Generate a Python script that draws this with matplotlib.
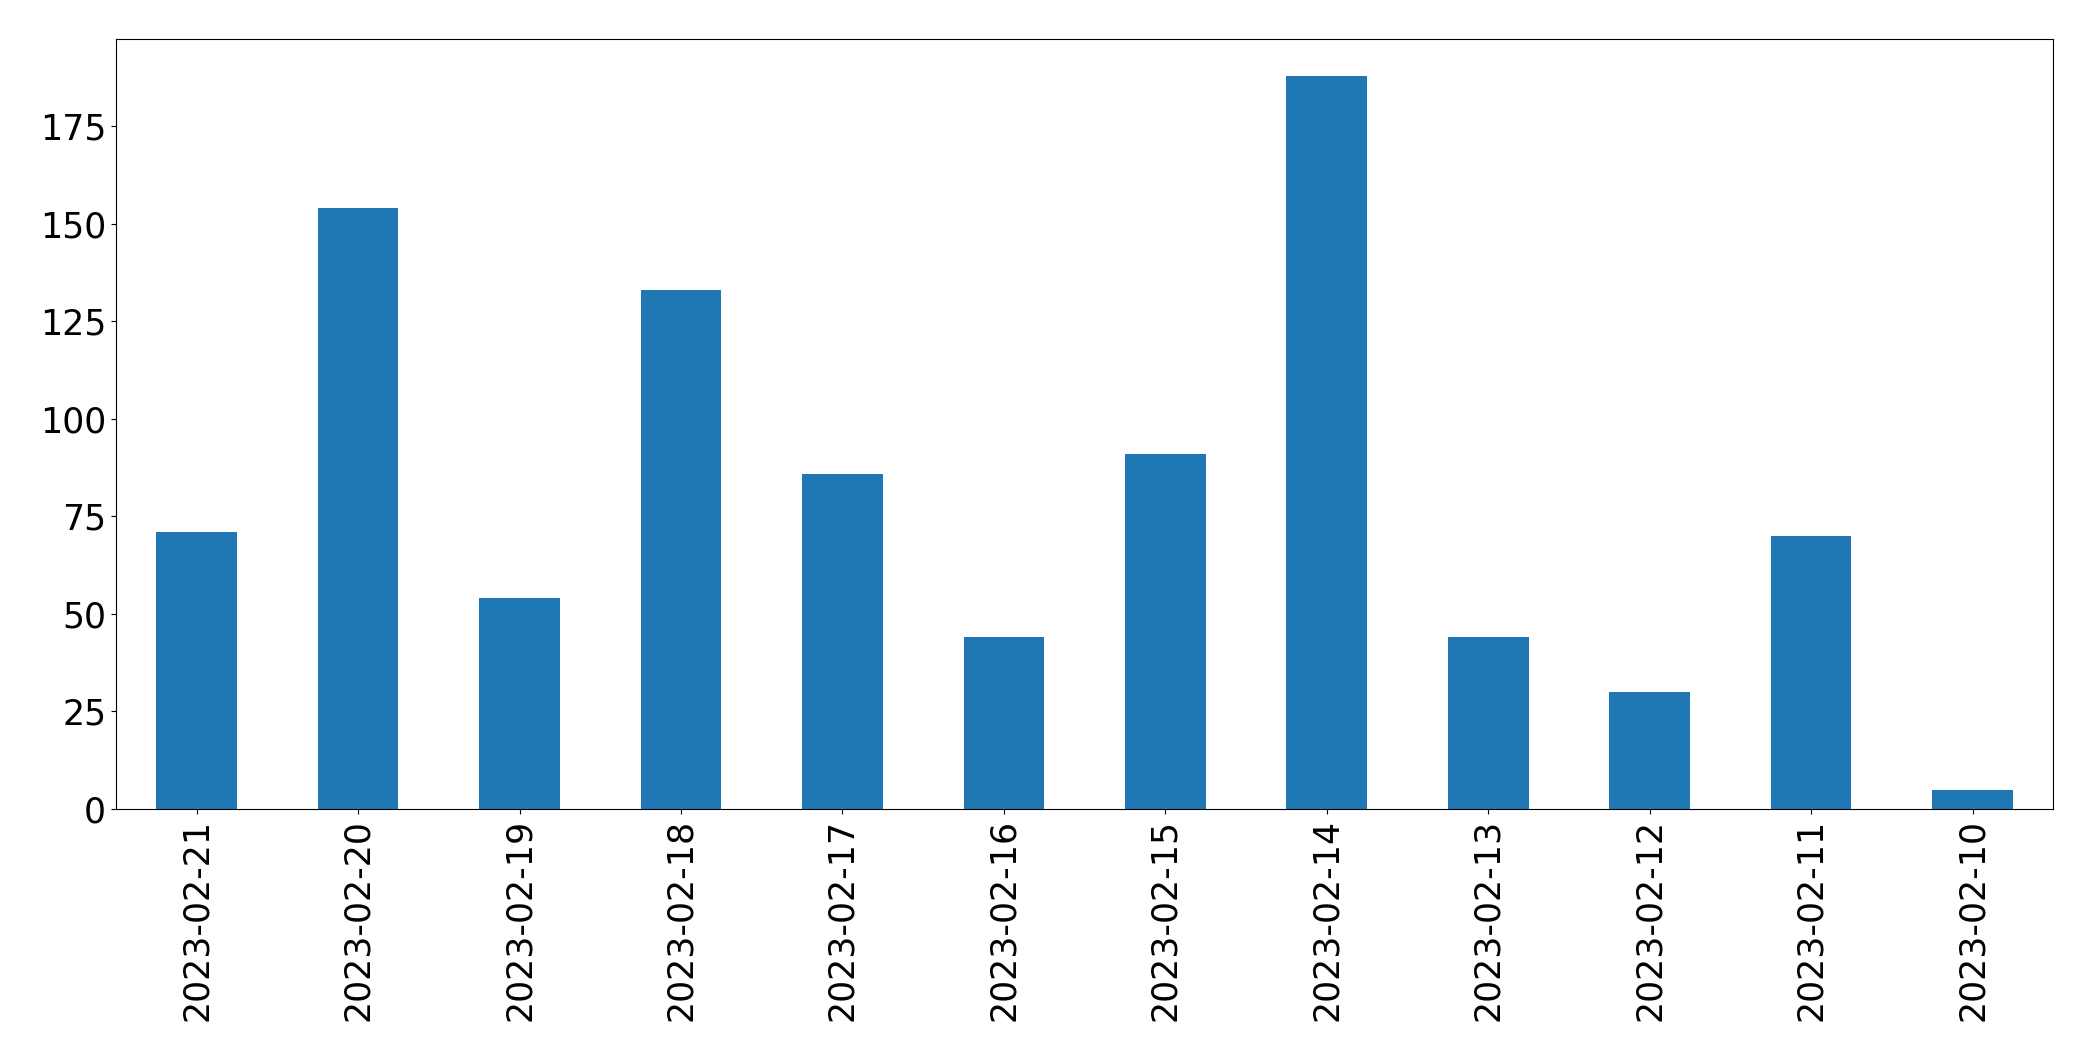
import matplotlib
matplotlib.use("Agg")
import matplotlib.pyplot as plt

dates = ["2023-02-21", "2023-02-20", "2023-02-19", "2023-02-18", "2023-02-17",
         "2023-02-16", "2023-02-15", "2023-02-14", "2023-02-13", "2023-02-12",
         "2023-02-11", "2023-02-10"]
counts = [71, 154, 54, 133, 86, 44, 91, 188, 44, 30, 70, 5]

fig, ax = plt.subplots(figsize=(20.93, 10.61), dpi=100)
pos = list(range(len(dates)))
ax.bar(pos, counts, width=0.5, color="#1f77b4")
ax.set_xlim(-0.5, len(dates) - 0.5)
ax.set_ylim(0, max(counts) * 1.05)
ax.set_xticks(pos)
ax.set_xticklabels(dates, rotation=90)
ax.tick_params(labelsize=25)
fig.subplots_adjust(left=0.0554, right=0.981, top=0.9632, bottom=0.2375)
plt.savefig("out.png")
